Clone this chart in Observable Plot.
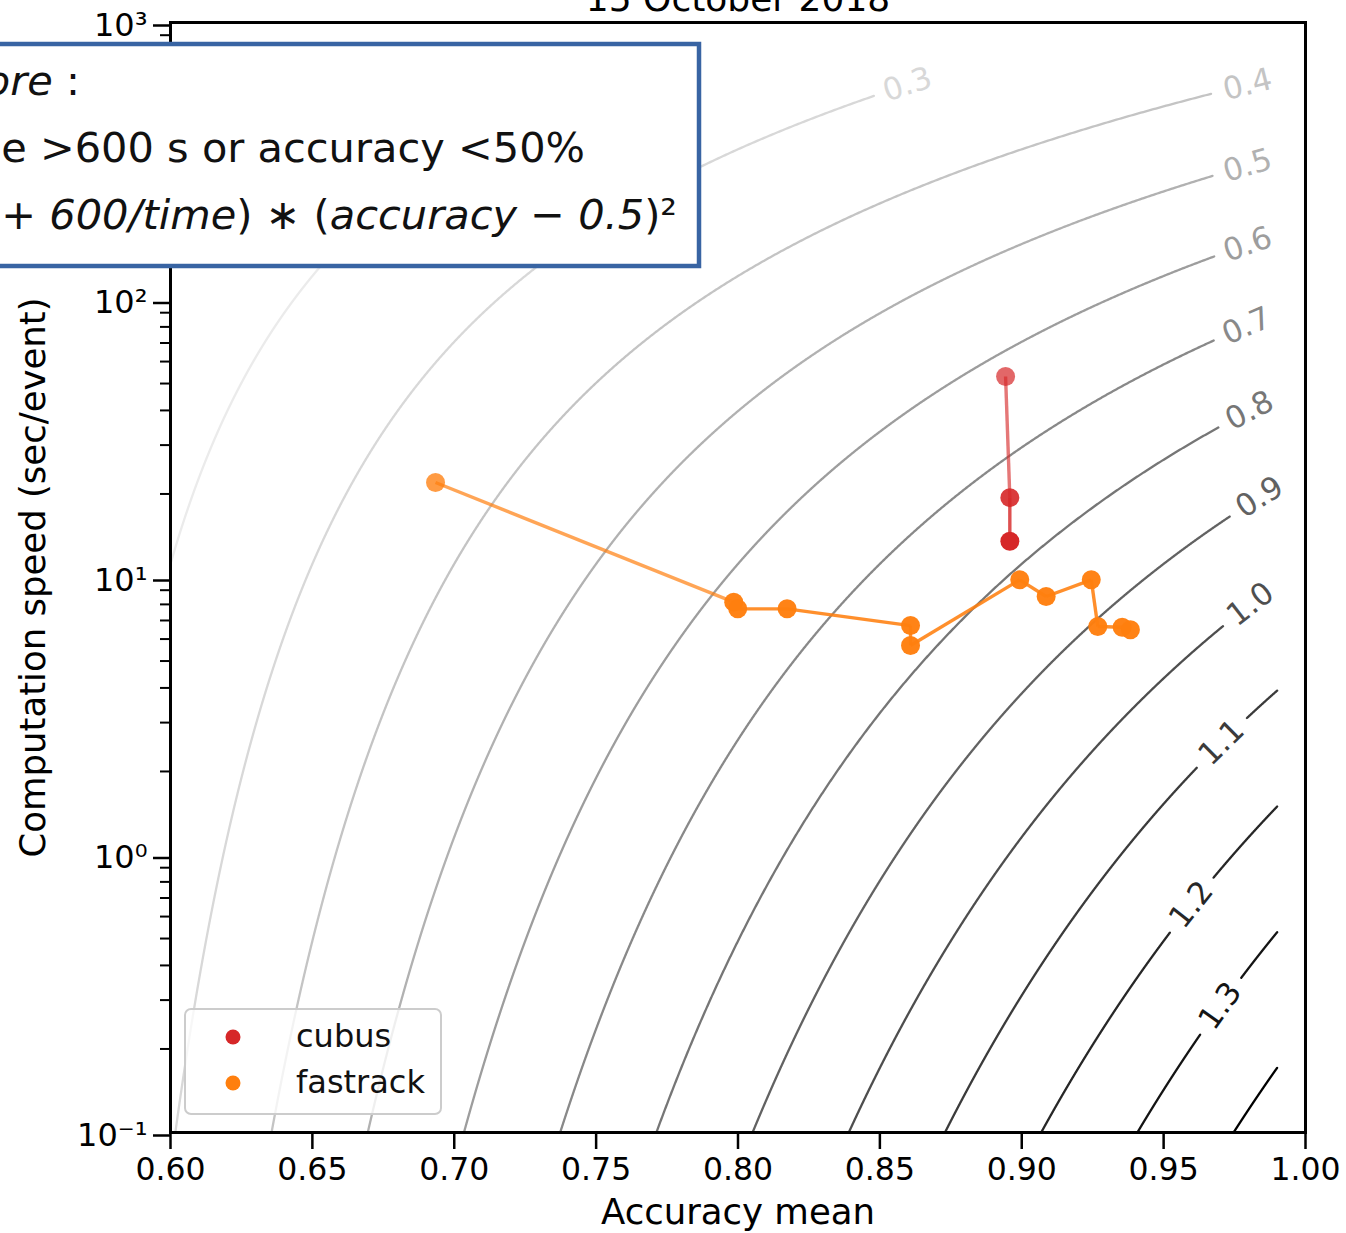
<!DOCTYPE html>
<html>
<head>
<meta charset="utf-8">
<script src="https://cdn.jsdelivr.net/npm/d3@7"></script>
<script src="https://cdn.jsdelivr.net/npm/@observablehq/plot@0.6"></script>
<style>
  html, body { margin: 0; padding: 0; background: #fff; overflow: hidden; }
  #wrap { position: relative; width: 1346px; height: 1233px; }
  #overlay { position: absolute; left: 0; top: 0; pointer-events: none; }
</style>
</head>
<body>
<div id="wrap"></div>
<script>
// ---- Submissions: mean accuracy vs. seconds per event ----
const cubusAccuracy = [0.8943, 0.8958, 0.8958];
const cubusTime     = [53.0, 19.4, 13.5];
const cubusAlpha    = [0.7, 0.9, 1.0];            // older runs drawn fainter

const fastrackAccuracy = [0.6934, 0.7985, 0.7999, 0.8173, 0.8608, 0.8608,
                          0.8993, 0.9086, 0.9245, 0.9268, 0.9354, 0.9383];
const fastrackTime     = [22.0, 8.15, 7.71, 7.71, 6.71, 5.69,
                          9.81, 8.54, 9.81, 6.66, 6.62, 6.48];
const fastrackAlpha    = [0.78, 0.97, 0.97, 0.97, 0.97, 0.97,
                          0.97, 0.97, 0.97, 0.97, 0.97, 0.97];

const seriesNames  = ["cubus", "fastrack"];
const seriesColors = ["#d62728", "#ff7f0e"];

// ---- Score iso-lines ----
const scoreLevels = [0.1, 0.2, 0.3, 0.4, 0.5, 0.6, 0.7, 0.8, 0.9, 1.0, 1.1, 1.2, 1.3, 1.4];
// accuracy at which each level's inline label sits (null: unlabelled)
const levelLabelAccuracy = [0.620, 0.740, 0.8597, 0.9796, 0.9796, 0.9796, 0.9792,
                            0.9803, 0.9838, 0.9806, 0.9704, 0.9598, 0.9700, null];

// ---- Axes ----
const xTicks = [0.60, 0.65, 0.70, 0.75, 0.80, 0.85, 0.90, 0.95, 1.00];
const xTickLabels = ["0.60", "0.65", "0.70", "0.75", "0.80", "0.85", "0.90", "0.95", "1.00"];
const yTicks = [0.1, 1, 10, 100, 1000];
const yTickLabels = ["10\u207B\u00B9", "10\u2070", "10\u00B9", "10\u00B2", "10\u00B3"];
const xLabel = "Accuracy mean";
const yLabel = "Computation speed (sec/event)";
const title = "15 October 2018";

// ---- Layout ----
const W = 1346, H = 1233;
const M = {top: 22, right: 41, bottom: 101, left: 170};
const xDomain = [0.6, 1.0], yDomain = [0.1, 1000];

// score = sqrt(ln(1 + 600/time) * (accuracy - 0.5)^2); the grid runs over
// accuracy 0.6–0.99 and time 0.1–600 s
const accMin = 0.6, accMax = 0.99, tMin = 0.1, tMax = 600;
const accOnLevel = (L, t) => 0.5 + L / Math.sqrt(Math.log(1 + 600 / t));
const timeOnLevel = (L, acc) => 600 / (Math.exp((L / (acc - 0.5)) ** 2) - 1);

const xs = Plot.scale({x: {domain: xDomain, range: [M.left, W - M.right]}});
const ys = Plot.scale({y: {type: "log", domain: yDomain, range: [H - M.bottom, M.top]}});

const labelFont = 31;
const gapRadius = 35;  // line is cut around each inline label

const contourRows = [];
const labelRows = [];
scoreLevels.forEach((L, k) => {
  const la = levelLabelAccuracy[k];
  let lx = -1e9, ly = -1e9;
  if (la != null) {
    const lt = timeOnLevel(L, la);
    lx = xs.apply(la); ly = ys.apply(lt);
    // label orientation follows the curve
    const p1 = [xs.apply(accOnLevel(L, lt * 0.97)), ys.apply(lt * 0.97)];
    const p2 = [xs.apply(accOnLevel(L, lt * 1.03)), ys.apply(lt * 1.03)];
    const angle = Math.atan2(p2[1] - p1[1], p2[0] - p1[0]) * 180 / Math.PI;
    labelRows.push({acc: la, t: lt, level: L, label: L.toFixed(1), angle});
  }
  const t0 = Math.max(tMin, timeOnLevel(L, accMin));
  const t1 = Math.min(tMax, timeOnLevel(L, accMax));
  const n = 1500;
  let seg = 0, inGap = false;
  for (let i = 0; i <= n; i++) {
    const t = t0 * Math.pow(t1 / t0, i / n);
    const acc = Math.min(accMax, Math.max(accMin, accOnLevel(L, t)));
    const d = Math.hypot(xs.apply(acc) - lx, ys.apply(t) - ly);
    if (d < gapRadius) { inGap = true; continue; }
    if (inGap) { seg++; inGap = false; }
    contourRows.push({acc, t, level: L, seg: `${L}-${seg}`});
  }
});

function points(accs, times, alphas, name) {
  return accs.map((a, i) => ({name, acc: a, time: times[i], alpha: alphas[i]}));
}
function steps(rows) {
  return rows.slice(1).map((r, i) => ({
    x1: rows[i].acc, y1: rows[i].time, x2: r.acc, y2: r.time, alpha: rows[i].alpha * 0.9
  }));
}
const cubus = points(cubusAccuracy, cubusTime, cubusAlpha, "cubus");
const fastrack = points(fastrackAccuracy, fastrackTime, fastrackAlpha, "fastrack");

const minorYTicks = [];
for (const e of [-1, 0, 1, 2]) for (let k = 2; k <= 9; k++) minorYTicks.push(k * Math.pow(10, e));

const chart = Plot.plot({
  width: W, height: H,
  marginTop: M.top, marginRight: M.right, marginBottom: M.bottom, marginLeft: M.left,
  style: {fontFamily: "'DejaVu Sans', sans-serif", background: "white", color: "black"},
  x: {domain: xDomain},
  y: {type: "log", domain: yDomain},
  color: {type: "linear", domain: [0.1, 1.4], range: ["#ffffff", "#000000"]},
  opacity: {type: "identity"},
  marks: [
    Plot.line(contourRows, {x: "acc", y: "t", z: "seg", stroke: "level", strokeWidth: 2.3}),
    Plot.text(labelRows, {x: "acc", y: "t", text: "label", rotate: "angle", fill: "level",
                          fontSize: labelFont, textAnchor: "middle", lineAnchor: "middle"}),

    Plot.link(steps(cubus), {x1: "x1", y1: "y1", x2: "x2", y2: "y2",
                             stroke: seriesColors[0], strokeOpacity: "alpha", strokeWidth: 3.4}),
    Plot.dot(cubus, {x: "acc", y: "time", r: 9.5, fill: seriesColors[0], fillOpacity: "alpha"}),
    Plot.link(steps(fastrack), {x1: "x1", y1: "y1", x2: "x2", y2: "y2",
                                stroke: seriesColors[1], strokeOpacity: "alpha", strokeWidth: 3.4}),
    Plot.dot(fastrack, {x: "acc", y: "time", r: 9.5, fill: seriesColors[1], fillOpacity: "alpha"}),

    Plot.frame({stroke: "black", strokeWidth: 3}),
    Plot.axisX(xTicks, {tickSize: 17, tickPadding: 8, fontSize: 31.5, strokeWidth: 2.5, label: null,
                        tickFormat: d => xTickLabels[xTicks.indexOf(d)]}),
    Plot.axisY(yTicks, {tickSize: 17, tickPadding: 6, fontSize: 32, strokeWidth: 2.5, label: null,
                        dy: 3, tickFormat: d => yTickLabels[yTicks.indexOf(d)]}),
    Plot.axisY(minorYTicks, {tickSize: 10, strokeWidth: 2, label: null, tickFormat: () => ""}),

    Plot.text([xLabel], {text: d => d, frameAnchor: "bottom", dy: 91, lineAnchor: "bottom", fontSize: 35.5}),
    Plot.text([yLabel], {text: d => d, frameAnchor: "left", dx: -125.5, rotate: -90,
                         lineAnchor: "bottom", textAnchor: "middle", fontSize: 35.5}),
    Plot.text([title], {text: d => d, frameAnchor: "top", dy: -12, lineAnchor: "bottom", fontSize: 36})
  ]
});
document.getElementById("wrap").appendChild(chart);

// ---- Overlay: score definition box and legend ----
const svg = d3.select("#wrap").append("svg")
  .attr("id", "overlay").attr("width", W).attr("height", H)
  .attr("font-family", "'DejaVu Sans', sans-serif");

svg.append("rect")
  .attr("x", -20).attr("y", 44).attr("width", 719).attr("height", 222)
  .attr("fill", "white").attr("stroke", "#3864a3").attr("stroke-width", 4.5);

const note = svg.append("g").attr("font-size", 41.5).attr("fill", "#111").attr("text-anchor", "end");
const l1 = note.append("text").attr("x", 80).attr("y", 95);
l1.append("tspan").attr("font-style", "italic").text("Score");
l1.append("tspan").text(" :");
note.append("text").attr("x", 585).attr("y", 162).text("0 if time >600 s or accuracy <50%");
const l3 = note.append("text").attr("x", 677).attr("y", 229);
l3.append("tspan").text("log(1 + ");
l3.append("tspan").attr("font-style", "italic").text("600/time");
l3.append("tspan").text(") \u2217 (");
l3.append("tspan").attr("font-style", "italic").text("accuracy");
l3.append("tspan").text(" \u2212 ");
l3.append("tspan").attr("font-style", "italic").text("0.5");
l3.append("tspan").text(")\u00B2");

const legend = svg.append("g");
legend.append("rect")
  .attr("x", 185).attr("y", 1009).attr("width", 256).attr("height", 105).attr("rx", 6)
  .attr("fill", "white").attr("fill-opacity", 0.8)
  .attr("stroke", "#cccccc").attr("stroke-width", 2);
seriesNames.forEach((name, i) => {
  const cy = 1037 + i * 46;
  legend.append("circle").attr("cx", 233).attr("cy", cy).attr("r", 7.5).attr("fill", seriesColors[i]);
  legend.append("text").attr("x", 296).attr("y", cy + 10).attr("font-size", 32).attr("fill", "#111").text(name);
});
</script>
</body>
</html>
